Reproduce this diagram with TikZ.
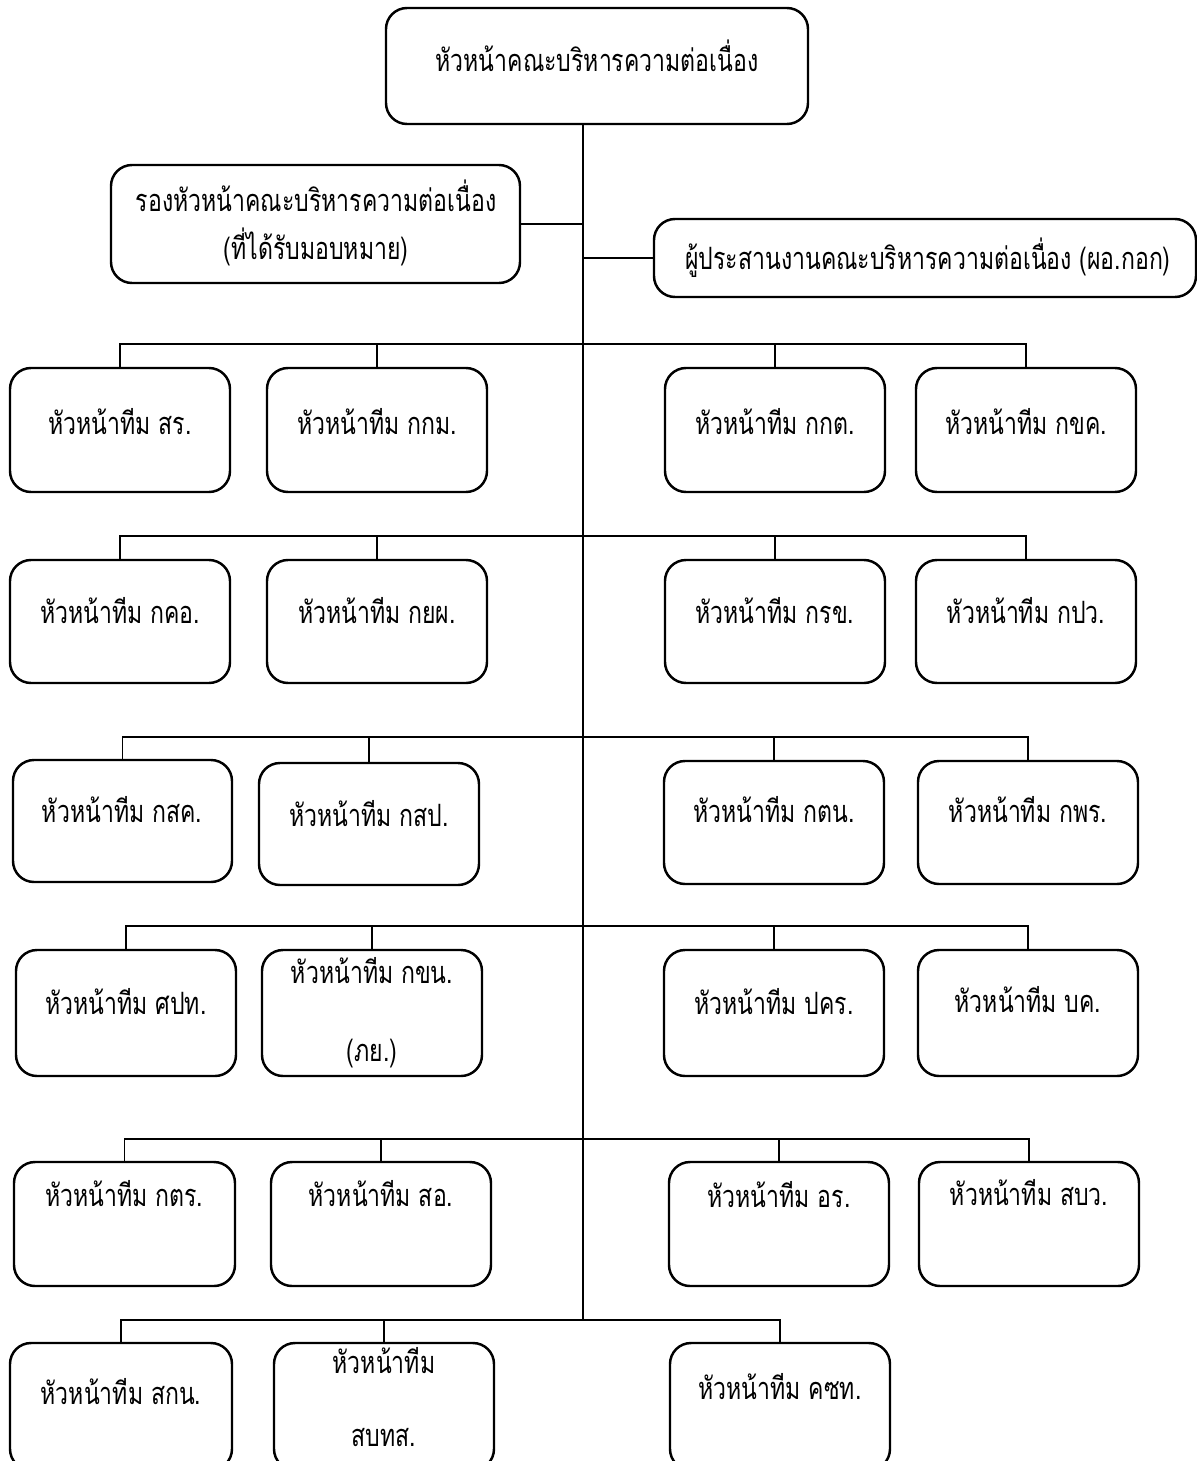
\documentclass[tikz,border=0pt]{standalone}
\usepackage{fontspec}
\newfontfamily\thaifont[Script=Thai,FakeStretch=0.75]{Loma}
\usetikzlibrary{fit}
\begin{document}
\begin{tikzpicture}[x=0.02cm,y=-0.02cm,
  unit/.style={draw=black, line width=1.4pt, rounded corners=0.42cm, inner sep=0pt},
  link/.style={draw=black, line width=0.6pt},
  lbl/.style={font=\thaifont\fontsize{17.5}{21}\selectfont, inner sep=0pt, anchor=mid, yshift=-3pt}]
\useasboundingbox (0,0) rectangle (1197,1461);

% head of the committee, deputy and coordinator
\node[unit, fit={(386,8) (808,124)}] (head) {};
\node[lbl] (headt) at (597,62) {หัวหน้าคณะบริหารความต่อเนื่อง};
\node[unit, fit={(111,165) (520,283)}] (dep) {};
\node[lbl] (dept1) at (316,202) {รองหัวหน้าคณะบริหารความต่อเนื่อง};
\node[lbl] (dept2) at (316,250) {(ที่ได้รับมอบหมาย)};
\node[unit, fit={(654,219) (1196,297)}] (coord) {};
\node[lbl] (coordt) at (928,260) {ผู้ประสานงานคณะบริหารความต่อเนื่อง (ผอ.กอก)};

% team heads, one row at a time
\node[unit, fit={(10,368) (230,492)}] (a1) {};
\node[lbl] at (120,425) {หัวหน้าทีม สร.};
\node[unit, fit={(267,368) (487,492)}] (b1) {};
\node[lbl] at (377,425) {หัวหน้าทีม กกม.};
\node[unit, fit={(665,368) (885,492)}] (c1) {};
\node[lbl] at (775,425) {หัวหน้าทีม กกต.};
\node[unit, fit={(916,368) (1136,492)}] (d1) {};
\node[lbl] at (1026,425) {หัวหน้าทีม กขค.};

\node[unit, fit={(10,560) (230,683)}] (a2) {};
\node[lbl] at (120,614) {หัวหน้าทีม กคอ.};
\node[unit, fit={(267,560) (487,683)}] (b2) {};
\node[lbl] at (377,614) {หัวหน้าทีม กยผ.};
\node[unit, fit={(665,560) (885,683)}] (c2) {};
\node[lbl] at (775,614) {หัวหน้าทีม กรข.};
\node[unit, fit={(916,560) (1136,683)}] (d2) {};
\node[lbl] at (1026,614) {หัวหน้าทีม กปว.};

\node[unit, fit={(13,760) (232,882)}] (a3) {};
\node[lbl] at (122,813) {หัวหน้าทีม กสค.};
\node[unit, fit={(259,763) (479,885)}] (b3) {};
\node[lbl] at (369,817) {หัวหน้าทีม กสป.};
\node[unit, fit={(664,761) (884,884)}] (c3) {};
\node[lbl] at (774,813) {หัวหน้าทีม กตน.};
\node[unit, fit={(918,761) (1138,884)}] (d3) {};
\node[lbl] at (1028,813) {หัวหน้าทีม กพร.};

\node[unit, fit={(16,950) (236,1076)}] (a4) {};
\node[lbl] at (126,1005) {หัวหน้าทีม ศปท.};
\node[unit, fit={(262,950) (482,1076)}] (b4) {};
\node[lbl] at (372,974) {หัวหน้าทีม กขน.};
\node[lbl] at (372,1052) {(ภย.)};
\node[unit, fit={(664,950) (884,1076)}] (c4) {};
\node[lbl] at (774,1005) {หัวหน้าทีม ปคร.};
\node[unit, fit={(918,950) (1138,1076)}] (d4) {};
\node[lbl] at (1028,1003) {หัวหน้าทีม บค.};

\node[unit, fit={(14,1162) (235,1286)}] (a5) {};
\node[lbl] at (124,1197) {หัวหน้าทีม กตร.};
\node[unit, fit={(271,1162) (491,1286)}] (b5) {};
\node[lbl] at (381,1197) {หัวหน้าทีม สอ.};
\node[unit, fit={(669,1162) (889,1286)}] (c5) {};
\node[lbl] at (779,1198) {หัวหน้าทีม อร.};
\node[unit, fit={(919,1162) (1139,1286)}] (d5) {};
\node[lbl] at (1029,1196) {หัวหน้าทีม สบว.};

\node[unit, fit={(10,1343) (232,1470)}] (a6) {};
\node[lbl] at (121,1395) {หัวหน้าทีม สกน.};
\node[unit, fit={(274,1343) (494,1470)}] (b6) {};
\node[lbl] at (384,1364) {หัวหน้าทีม};
\node[lbl] at (384,1437) {สบทส.};
\node[unit, fit={(670,1343) (890,1470)}] (c6) {};
\node[lbl] at (780,1390) {หัวหน้าทีม คซท.};

% spine and branch rails
\coordinate (spine) at (583,1320);
\coordinate (r1) at (583,344);
\coordinate (r2) at (583,536);
\coordinate (r3) at (583,737);
\coordinate (r4) at (583,926);
\coordinate (r5) at (583,1139);

\draw[link] (head.south -| spine) -- (spine);
\draw[link] (dep.east) -- (dep.east -| spine);
\draw[link] (coord.west) -- (coord.west -| spine);

\foreach \r/\i in {r1/1,r2/2,r3/3,r4/4,r5/5}{
  \draw[link] (a\i.north) |- (\r) -| (d\i.north);
  \draw[link] (b\i.north) -- (b\i.north |- \r);
  \draw[link] (c\i.north) -- (c\i.north |- \r);
}
\draw[link] (a6.north) |- (spine) -| (c6.north);
\draw[link] (b6.north) -- (b6.north |- spine);
\end{tikzpicture}
\end{document}
